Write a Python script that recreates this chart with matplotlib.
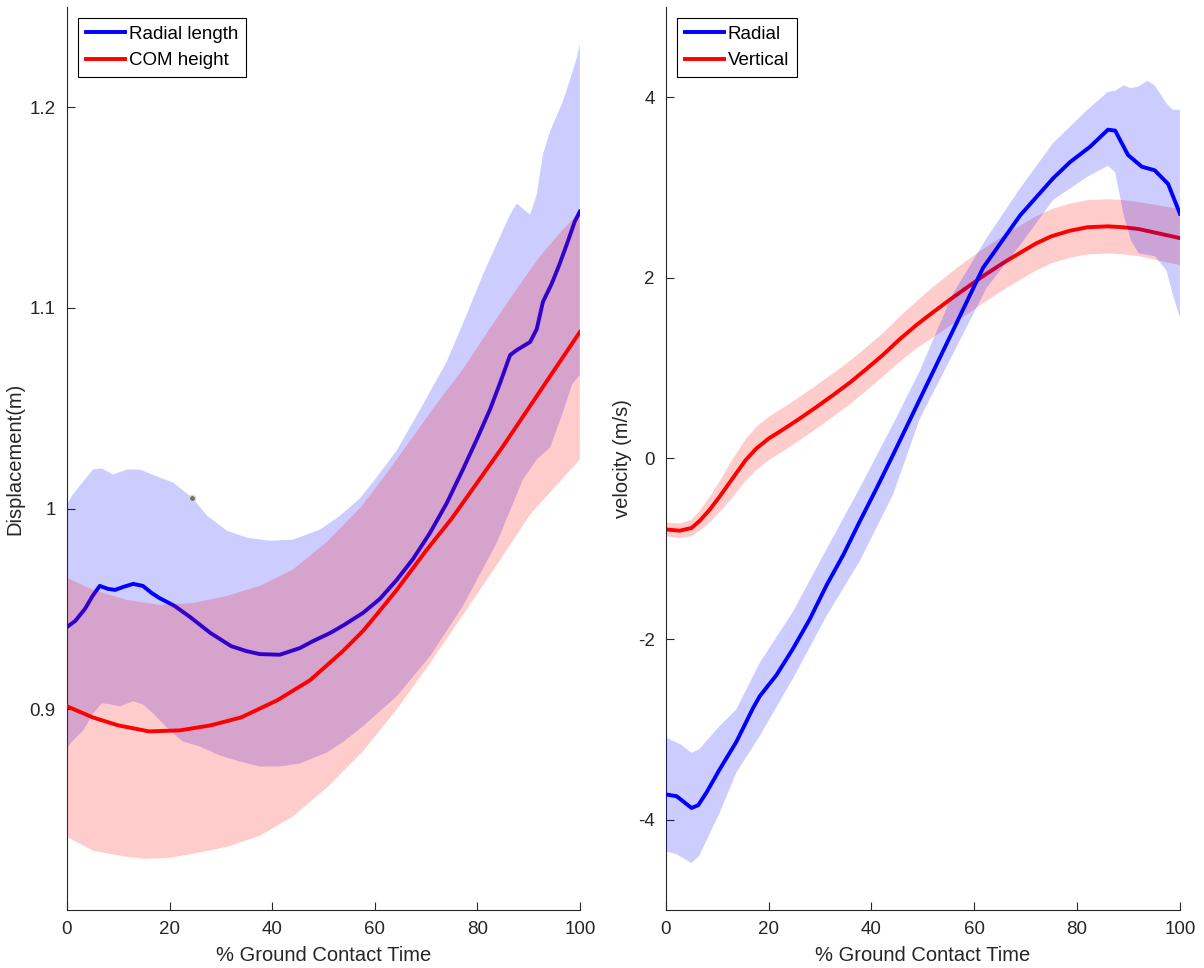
import numpy as np
import matplotlib
matplotlib.use("Agg")
import matplotlib.pyplot as plt

plt.rcParams["font.family"] = ["Liberation Sans", "DejaVu Sans"]
plt.rcParams["font.size"] = 13.5
plt.rcParams["axes.unicode_minus"] = False

# ---- left panel: displacement ----
x_rl = [0, 1.6, 3.5, 5, 6.4, 8, 9.4, 11, 12.9, 14.8, 16.5, 18, 21, 24, 28, 32, 35, 37.6,
        41.5, 45.4, 48, 51.3, 54, 57.7, 61, 64.3, 67.5, 70.8, 74, 77.2, 80, 82.5, 84.5,
        86.4, 87.7, 90.3, 91.6, 92.8, 94.5, 96, 97.5, 99, 100]
radial_len = [0.941, 0.944, 0.950, 0.9565, 0.9615, 0.960, 0.9595, 0.961, 0.9625, 0.9615,
              0.958, 0.9555, 0.9515, 0.946, 0.938, 0.9315, 0.929, 0.9275, 0.9272, 0.9305,
              0.934, 0.938, 0.942, 0.948, 0.955, 0.9645, 0.975, 0.988, 1.0025, 1.0195,
              1.035, 1.0495, 1.063, 1.0765, 1.079, 1.083, 1.0895, 1.103, 1.112, 1.1215,
              1.132, 1.143, 1.148]

x_rl_up = [0, 1, 3, 5.1, 6.8, 9, 11.7, 14.2, 18.1, 20.7, 24.4, 27.3, 31.2, 35.1, 39.6, 44,
           49.3, 53, 57.1, 60.5, 64.3, 69, 74, 77.5, 81.1, 84, 86.4, 87.7, 90.3, 91.6, 92.8,
           94.2, 96.7, 98, 99.4, 100]
radial_len_up = [1.002, 1.0065, 1.013, 1.0195, 1.02, 1.017, 1.0195, 1.0195, 1.0155, 1.013,
                 1.0055, 0.9965, 0.989, 0.9855, 0.984, 0.9845, 0.9895, 0.996, 1.005, 1.016,
                 1.029, 1.05, 1.073, 1.094, 1.1165, 1.133, 1.1465, 1.152, 1.1465, 1.1565,
                 1.1765, 1.188, 1.203, 1.213, 1.2245, 1.2315]

x_rl_lo = [0, 1, 3.2, 5.1, 6.8, 8.4, 10.3, 12.9, 14.8, 16.8, 20, 22.6, 25.9, 29.8, 33.7,
           37.6, 41.5, 45.4, 50.7, 54, 57.7, 64.3, 70.8, 77.2, 83.8, 88.9, 91.6, 94.2, 96.7,
           98.5, 100]
radial_len_lo = [0.8805, 0.884, 0.8895, 0.898, 0.903, 0.9025, 0.9015, 0.904, 0.9025, 0.898,
                 0.8895, 0.884, 0.8815, 0.877, 0.874, 0.8715, 0.8715, 0.873, 0.8785, 0.884,
                 0.8915, 0.9065, 0.9265, 0.9515, 0.983, 1.0145, 1.0245, 1.0305, 1.048,
                 1.062, 1.0665]

x_com = [0, 5, 10, 16, 22, 28, 34, 41, 47.4, 53.8, 57.7, 60, 64.3, 70, 75, 80, 85, 90, 95, 100]
com_h = [0.9015, 0.896, 0.892, 0.889, 0.8895, 0.892, 0.896, 0.9045, 0.9145, 0.929, 0.939,
         0.946, 0.9595, 0.979, 0.995, 1.013, 1.031, 1.050, 1.069, 1.088]

x_com_up = [0, 5.1, 11.7, 18.1, 24.6, 31.2, 37.6, 44, 50.7, 57.4, 62, 67.4, 72, 77.2, 82,
            86.9, 92, 96, 100]
com_h_up = [0.9655, 0.9595, 0.9545, 0.952, 0.953, 0.9565, 0.9615, 0.9695, 0.9835, 1.001,
            1.0165, 1.0355, 1.052, 1.0695, 1.088, 1.1065, 1.125, 1.137, 1.148]

x_com_lo = [0, 5.1, 11.7, 15.1, 20, 24.6, 31.2, 37.6, 44, 50.7, 57.7, 64.3, 70.8, 77.2,
            83.8, 90.3, 100]
com_h_lo = [0.8365, 0.8295, 0.8265, 0.8255, 0.826, 0.828, 0.8315, 0.837, 0.8465, 0.861,
            0.879, 0.900, 0.923, 0.947, 0.972, 0.997, 1.0245]

tip_x, tip_y = 24.4, 1.0055

# ---- right panel: velocity ----
x_rv = [0, 2.1, 5, 6.3, 7.9, 10.5, 13.7, 17, 18.3, 21.5, 24.7, 28, 31.3, 34.5, 37.7, 41,
        44.2, 47.5, 50.8, 55.8, 61.7, 68.9, 75.3, 78.6, 82.5, 86, 87.4, 89.9, 92.6, 95.1,
        97.7, 100]
radial_v = [-3.72, -3.74, -3.87, -3.84, -3.7, -3.44, -3.14, -2.76, -2.63, -2.4, -2.11,
            -1.78, -1.4, -1.07, -0.70, -0.33, 0.04, 0.43, 0.82, 1.41, 2.11, 2.69, 3.1,
            3.28, 3.45, 3.64, 3.63, 3.36, 3.23, 3.19, 3.04, 2.71]

x_rv_up = [0, 3, 5, 6.5, 10.5, 13.7, 18.3, 24.7, 31.3, 37.7, 44.2, 49.4, 55.8, 62.4, 68.9,
           75.3, 82, 86, 87.4, 89, 90.5, 92, 93.7, 95.1, 97.4, 98.6, 100]
radial_v_up = [-3.09, -3.17, -3.26, -3.22, -2.96, -2.78, -2.26, -1.7, -1.0, -0.33, 0.38,
               0.97, 1.82, 2.44, 2.99, 3.49, 3.86, 4.06, 4.07, 4.13, 4.10, 4.12, 4.18,
               4.13, 3.93, 3.86, 3.86]

x_rv_lo = [0, 2, 5, 6.5, 10.5, 13.7, 18.3, 24.7, 31.3, 37.7, 44.2, 49.4, 55.8, 62.4, 68.9,
           75.3, 82, 86, 87.4, 89, 90.5, 92, 95.1, 97.4, 98.6, 100]
radial_v_lo = [-4.35, -4.38, -4.48, -4.4, -3.92, -3.48, -3.07, -2.44, -1.74, -1.14, -0.4,
               0.44, 1.15, 1.89, 2.36, 2.86, 3.12, 3.24, 3.17, 2.71, 2.41, 2.27, 2.24,
               2.08, 1.82, 1.56]

x_vv = [0, 2.7, 5, 6.6, 8.5, 10.5, 13, 15.5, 17.6, 20, 22.8, 26, 29.3, 32.5, 35.8, 39,
        42.3, 45.5, 48.8, 52, 55.3, 58.5, 62, 65.5, 69, 72, 75, 78.5, 82, 86, 89, 92, 96, 100]
vert_v = [-0.786, -0.80, -0.77, -0.69, -0.57, -0.42, -0.22, -0.02, 0.11, 0.22, 0.32, 0.44,
          0.57, 0.70, 0.84, 0.99, 1.15, 1.32, 1.48, 1.62, 1.76, 1.89, 2.03, 2.16, 2.28,
          2.38, 2.46, 2.52, 2.56, 2.57, 2.56, 2.54, 2.49, 2.44]
vert_v_up = [-0.711, -0.72, -0.68, -0.58, -0.43, -0.25, -0.01, 0.21, 0.35, 0.46, 0.56,
             0.68, 0.81, 0.94, 1.08, 1.23, 1.39, 1.57, 1.74, 1.90, 2.05, 2.19, 2.33, 2.46,
             2.58, 2.68, 2.76, 2.82, 2.86, 2.87, 2.86, 2.84, 2.80, 2.76]
vert_v_lo = [-0.861, -0.88, -0.86, -0.80, -0.71, -0.59, -0.43, -0.25, -0.13, -0.02, 0.08,
             0.20, 0.33, 0.46, 0.60, 0.75, 0.91, 1.07, 1.22, 1.34, 1.47, 1.59, 1.73, 1.86,
             1.98, 2.08, 2.16, 2.22, 2.26, 2.27, 2.26, 2.24, 2.19, 2.14]

x_ticks = [0, 20, 40, 60, 80, 100]
AX_COL = "#262626"
LW = 2.8


def fill_band(ax, xu, yu, xl, yl, color, z):
    # polygon: upper edge forward, lower edge backward
    px = list(xu) + list(xl)[::-1]
    py = list(yu) + list(yl)[::-1]
    ax.fill(px, py, color=color, alpha=0.2, lw=0, zorder=z)


def style(ax):
    ax.spines["top"].set_visible(False)
    ax.spines["right"].set_visible(False)
    for s in ("left", "bottom"):
        ax.spines[s].set_color(AX_COL)
    ax.tick_params(direction="in", length=6, colors=AX_COL, labelsize=13.5, pad=8)
    ax.set_xlim(0, 100)
    ax.set_xticks(x_ticks)
    ax.set_xlabel("% Ground Contact Time", color=AX_COL, fontsize=14.5, labelpad=6)


fig = plt.figure(figsize=(12.04, 9.68), dpi=100)
ax1 = fig.add_axes([0.0556, 0.0599, 0.426, 0.933])
ax2 = fig.add_axes([0.553, 0.0599, 0.427, 0.933])

# left: blue band, blue line, red band, red line
fill_band(ax1, x_rl_up, radial_len_up, x_rl_lo, radial_len_lo, "blue", 1)
ax1.plot(x_rl, radial_len, color="blue", lw=LW, label="Radial length", zorder=2)
fill_band(ax1, x_com_up, com_h_up, x_com_lo, com_h_lo, "red", 3)
ax1.plot(x_com, com_h, color="red", lw=LW, label="COM height", zorder=4)
ax1.plot([tip_x], [tip_y], "o", ms=4.5, color="#707070", mec="#d8d8c8", mew=1, zorder=5)
ax1.set_ylim(0.8, 1.25)
ax1.set_yticks([0.9, 1.0, 1.1, 1.2])
ax1.set_yticklabels(["0.9", "1", "1.1", "1.2"])
ax1.set_ylabel("Displacement(m)", color=AX_COL, fontsize=14.5, labelpad=4)
style(ax1)

# right: red band, red line, blue band, blue line
fill_band(ax2, x_vv, vert_v_up, x_vv, vert_v_lo, "red", 1)
ax2.plot(x_vv, vert_v, color="red", lw=LW, label="Vertical", zorder=2)
fill_band(ax2, x_rv_up, radial_v_up, x_rv_lo, radial_v_lo, "blue", 3)
ax2.plot(x_rv, radial_v, color="blue", lw=LW, label="Radial", zorder=4)
ax2.set_ylim(-5, 5)
ax2.set_yticks([-4, -2, 0, 2, 4])
ax2.set_ylabel("velocity (m/s)", color=AX_COL, fontsize=14.5, labelpad=4)
style(ax2)

for ax, order in ((ax1, [0, 1]), (ax2, [1, 0])):
    h, l = ax.get_legend_handles_labels()
    leg = ax.legend([h[i] for i in order], [l[i] for i in order], loc="upper left",
                    fancybox=False, framealpha=1, edgecolor="black", fontsize=13.5,
                    handlelength=2.1, handletextpad=0.2, borderpad=0.4,
                    labelspacing=0.5, borderaxespad=0.6)
    leg.get_frame().set_linewidth(0.8)
    leg.set_zorder(10)

fig.savefig("out.png", dpi=100)
